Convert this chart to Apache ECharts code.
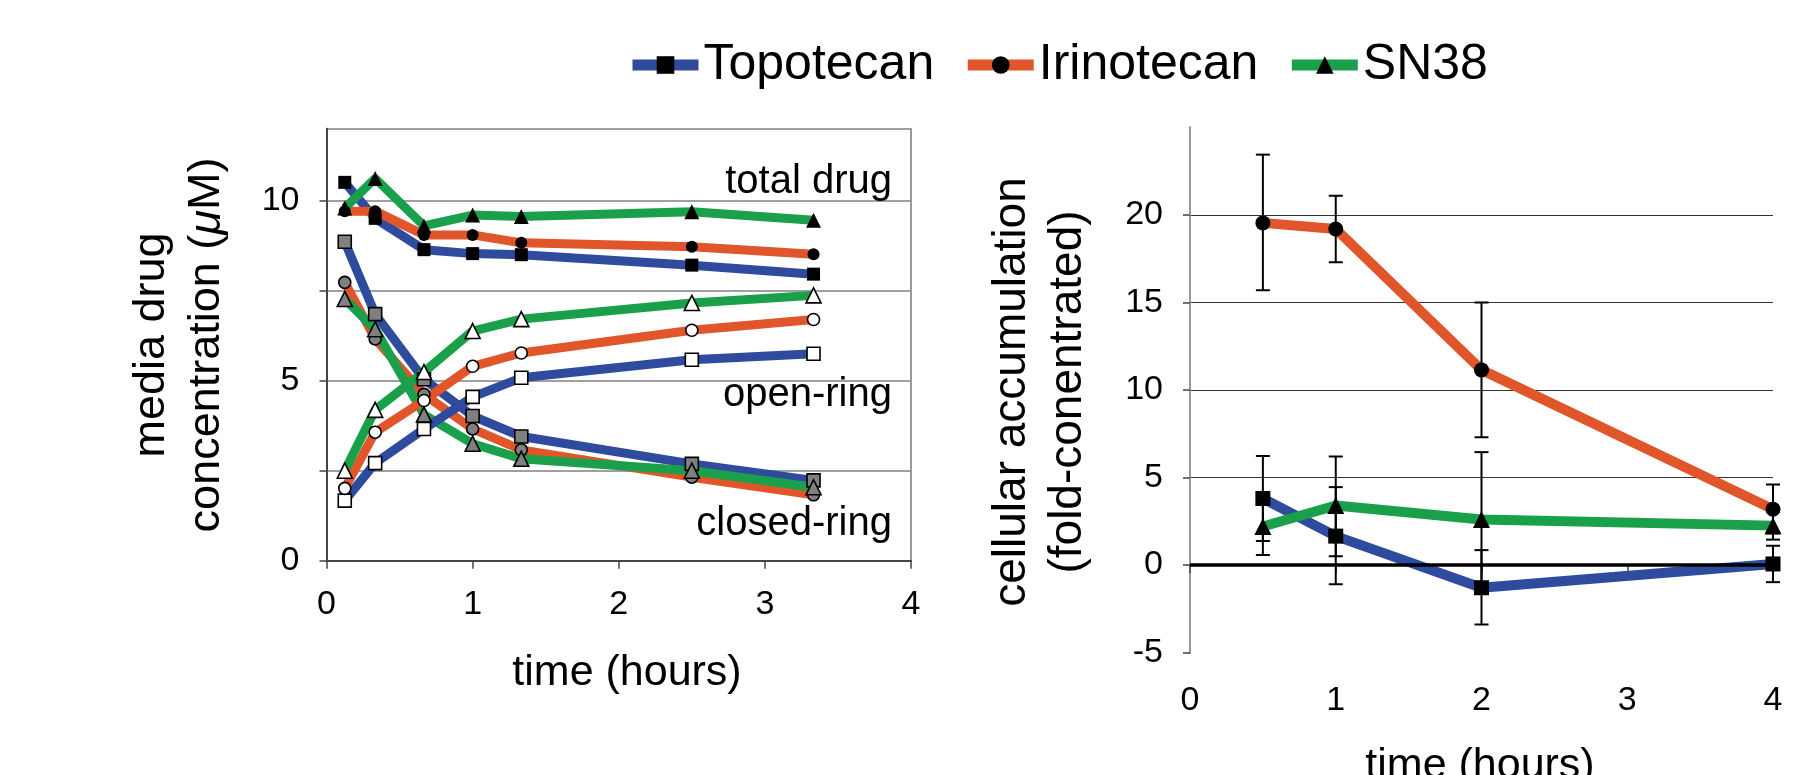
<!DOCTYPE html>
<html>
<head>
<meta charset="utf-8">
<script src="https://cdn.jsdelivr.net/npm/echarts@6/dist/echarts.min.js"></script>
<style>
html,body{margin:0;padding:0;background:#fff;}
#chart{width:1809px;height:775px;}
</style>
</head>
<body>
<div id="chart"></div>
<script>
// ---------- DATA ----------
const drugNames = ['Topotecan', 'Irinotecan', 'SN38'];

// left panel: media drug concentration (µM) vs time (hours)
const timesMedia = [0.125, 0.333, 0.667, 1, 1.333, 2.5, 3.333];
const topoTotal  = [10.51, 9.51, 8.64, 8.53, 8.50, 8.21, 7.96];
const iriTotal   = [9.71, 9.71, 9.05, 9.05, 8.83, 8.72, 8.51];
const sn38Total  = [9.80, 10.62, 9.30, 9.60, 9.56, 9.69, 9.46];
const topoOpen   = [1.67, 2.71, 3.66, 4.55, 5.08, 5.58, 5.75];
const iriOpen    = [2.01, 3.57, 4.45, 5.40, 5.77, 6.40, 6.70];
const sn38Open   = [2.50, 4.19, 5.24, 6.38, 6.71, 7.16, 7.37];
const topoClosed = [8.86, 6.85, 5.04, 4.02, 3.45, 2.69, 2.23];
const iriClosed  = [7.73, 6.16, 4.62, 3.66, 3.08, 2.32, 1.83];
const sn38Closed = [7.27, 6.43, 4.06, 3.25, 2.83, 2.50, 2.04];

// right panel: cellular accumulation (fold-concentrated) vs time (hours)
const timesCell = [0.5, 1, 2, 4];
const topoCell  = [3.80, 1.65, -1.30, 0.06];
const topoLow   = [1.37, -1.10, -3.40, -0.98];
const topoHigh  = [6.23, 4.45, 0.85, 1.10];
const iriCell   = [19.55, 19.20, 11.15, 3.19];
const iriLow    = [15.70, 17.30, 7.30, 1.80];
const iriHigh   = [23.45, 21.10, 15.00, 4.60];
const sn38Cell  = [2.20, 3.40, 2.60, 2.25];
const sn38Low   = [0.57, 0.50, -1.25, 1.45];
const sn38High  = [3.83, 6.20, 6.45, 3.05];

// ---------- STYLE ----------
const FONT = '"Liberation Sans", Arial, Helvetica, sans-serif';
const BLUE = '#2f4b9e', ORANGE = '#e0562a', GREEN = '#1aa04a';
const colors = [BLUE, ORANGE, GREEN];
const symbols = ['rect', 'circle', 'triangle'];
const leftSym = [13, 12, 15];
const rightSym = [15, 15, 17];

const pairs = (xs, ys) => xs.map((x, i) => [x, ys[i]]);

const chart = echarts.init(document.getElementById('chart'), null, {renderer: 'canvas'});

const totals = [topoTotal, iriTotal, sn38Total];
const opens = [topoOpen, iriOpen, sn38Open];
const closeds = [topoClosed, iriClosed, sn38Closed];
const cells = [topoCell, iriCell, sn38Cell];
const lows = [topoLow, iriLow, sn38Low];
const highs = [topoHigh, iriHigh, sn38High];

const series = [];
function leftLine(name, k, data, fill, z) {
  series.push({
    type: 'line', name: name, xAxisIndex: 0, yAxisIndex: 0,
    data: pairs(timesMedia, data),
    symbol: symbols[k], symbolSize: leftSym[k],
    lineStyle: {color: colors[k], width: 9},
    itemStyle: {color: fill, borderColor: '#000', borderWidth: fill === '#000' ? 0 : 1.6},
    z: z, clip: false, animation: false, silent: true
  });
}
for (let k = 0; k < 3; k++) leftLine(drugNames[k], k, totals[k], '#000', 3);
for (let k = 0; k < 3; k++) leftLine(drugNames[k], k, closeds[k], '#808080', 3);
for (let k = 0; k < 3; k++) leftLine(drugNames[k], k, opens[k], '#ffffff', 3);

for (let k = 0; k < 3; k++) {
  const s = {
    type: 'line', name: drugNames[k], xAxisIndex: 1, yAxisIndex: 2,
    data: pairs(timesCell, cells[k]),
    symbol: symbols[k], symbolSize: rightSym[k],
    lineStyle: {color: colors[k], width: 10},
    itemStyle: {color: '#000'},
    z: 3, clip: false, animation: false, silent: true
  };
  if (k === 0) {
    s.markLine = {
      symbol: 'none', silent: true, animation: false,
      label: {show: false},
      lineStyle: {color: '#000', width: 3.5, type: 'solid'},
      data: [{yAxis: 0}]
    };
  }
  series.push(s);
}

function errRender(params, api) {
  const x = api.value(0), lo = api.value(1), hi = api.value(2);
  const pH = api.coord([x, hi]), pL = api.coord([x, lo]);
  const w = 7;
  const st = {stroke: '#000', lineWidth: 2};
  return {
    type: 'group', children: [
      {type: 'line', shape: {x1: pH[0], y1: pH[1], x2: pL[0], y2: pL[1]}, style: st},
      {type: 'line', shape: {x1: pH[0] - w, y1: pH[1], x2: pH[0] + w, y2: pH[1]}, style: st},
      {type: 'line', shape: {x1: pL[0] - w, y1: pL[1], x2: pL[0] + w, y2: pL[1]}, style: st}
    ]
  };
}
for (let k = 0; k < 3; k++) {
  series.push({
    type: 'custom', name: drugNames[k] + ' error', xAxisIndex: 1, yAxisIndex: 2,
    data: timesCell.map((t, i) => [t, lows[k][i], highs[k][i]]),
    encode: {x: 0, y: [1, 2]},
    renderItem: errRender, z: 4, clip: false, animation: false, silent: true
  });
}

const axisFont = {fontFamily: FONT, fontSize: 34, color: '#000'};

const option = {
  animation: false,
  backgroundColor: '#fff',
  legend: {
    data: drugNames,
    left: 622, top: 35,
    itemWidth: 66, itemHeight: 22, itemGap: 28,
    selectedMode: false,
    lineStyle: {width: 11},
    textStyle: {fontFamily: FONT, fontSize: 50, color: '#000'}
  },
  grid: [
    {left: 326.5, top: 128.7, width: 584.5, height: 432},
    {left: 1190, top: 127.5, width: 583, height: 525}
  ],
  xAxis: [
    {
      type: 'value', gridIndex: 0, min: 0, max: 4, interval: 1,
      axisLine: {lineStyle: {color: '#444', width: 2}},
      axisTick: {length: 8, lineStyle: {color: '#444', width: 1.5}},
      axisLabel: Object.assign({margin: 27}, axisFont),
      splitLine: {show: false}
    },
    {
      type: 'value', gridIndex: 1, min: 0, max: 4, interval: 1,
      axisLine: {lineStyle: {color: '#444', width: 2}},
      axisTick: {length: 8, lineStyle: {color: '#444', width: 1.5}},
      axisLabel: Object.assign({margin: 31}, axisFont),
      splitLine: {show: false}
    }
  ],
  yAxis: [
    {
      type: 'value', gridIndex: 0, min: 0, max: 12, interval: 2.5,
      axisLine: {show: true, lineStyle: {color: '#444', width: 2}},
      axisTick: {show: true, length: 7, lineStyle: {color: '#444', width: 1.5}},
      axisLabel: Object.assign({margin: 27, showMaxLabel: false,
        formatter: v => (v % 5 === 0 ? String(v) : '')}, axisFont),
      splitLine: {show: true, showMinLine: false, lineStyle: {color: '#808080', width: 1.5}}
    },
    {
      type: 'value', gridIndex: 0, position: 'right', min: 0, max: 12,
      axisLine: {show: true, lineStyle: {color: '#9a9a9a', width: 2}},
      axisTick: {show: false}, axisLabel: {show: false}, splitLine: {show: false}
    },
    {
      type: 'value', gridIndex: 1, min: -5, max: 25, interval: 5,
      axisLine: {show: true, onZero: false, lineStyle: {color: '#444', width: 2}},
      axisTick: {show: true, length: 7, lineStyle: {color: '#444', width: 1.5}},
      axisLabel: Object.assign({margin: 27, showMaxLabel: false}, axisFont),
      splitLine: {show: true, showMinLine: false, showMaxLine: false, lineStyle: {color: '#333', width: 1.2}}
    },
    {
      type: 'value', gridIndex: 1, position: 'right', min: -5, max: 25,
      axisLine: {show: true, lineStyle: {color: '#9a9a9a', width: 2}},
      axisTick: {show: false}, axisLabel: {show: false}, splitLine: {show: false}
    }
  ],
  graphic: [],
  series: series
};

function txt(text, x, y, size, align, rot, rich) {
  const st = {
    text: text, font: size + 'px ' + FONT, fill: '#000',
    align: align, textAlign: align,
    verticalAlign: 'middle', textVerticalAlign: 'middle'
  };
  if (rich) st.rich = rich;
  return {type: 'text', x: x, y: y, rotation: rot || 0, silent: true, z: 100, style: st};
}
const titleRich = {
  a: {fontFamily: FONT, fontSize: 45, fill: '#000', color: '#000'},
  b: {fontFamily: FONT, fontSize: 45, fontStyle: 'italic', fill: '#000', color: '#000'}
};
option.graphic = [
  txt('total drug', 892, 182, 40, 'right'),
  txt('open-ring', 892, 395, 40, 'right'),
  txt('closed-ring', 892, 524, 40, 'right'),
  txt('time (hours)', 627, 673, 43, 'center'),
  txt('time (hours)', 1480, 766, 43, 'center'),
  txt('media drug', 152, 345, 45, 'center', Math.PI / 2),
  txt('{a|concentration (}{b|\u03bc}{a|M)}', 207, 345, 45, 'center', Math.PI / 2, titleRich),
  txt('cellular accumulation', 1012, 392, 46, 'center', Math.PI / 2),
  txt('(fold-conentrated)', 1068, 392, 46, 'center', Math.PI / 2)
];

chart.setOption(option);
</script>
</body>
</html>
